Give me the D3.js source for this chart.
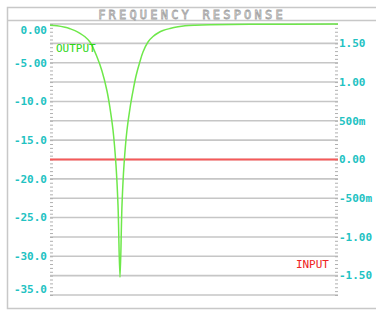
<!DOCTYPE html>
<html>
<head>
<meta charset="utf-8">
<script src="https://cdn.jsdelivr.net/npm/d3@7"></script>
<style>
  body { margin: 0; background: #fff; }
  text { font-family: "DejaVu Sans Mono", monospace; }
</style>
</head>
<body>
<svg id="chart"></svg>
<script>
// sweep frequencies (Hz) and output level (dB)
const freqs = [10, 12.5, 16.2, 19, 22.2, 26.1, 30.6, 35.9, 45, 52.7, 61.9, 68.1, 75, 82.5, 88, 93.8,
               100, 106.6, 117.3, 129.2, 142.2, 156.5, 175.1, 195.7, 229.6, 269.6, 316, 371, 464, 600, 750, 1033, 1668, 5995, 100000];
const outputDb = [-0.17, -0.23, -0.43, -0.62, -0.85, -1.2, -1.65, -2.32, -4.26, -6.07, -8.65, -10.85, -13.69, -18.21, -23.38, -32.72,
                  -23.38, -18.21, -13.69, -10.85, -8.65, -6.72, -5.04, -3.62, -2.32, -1.61, -1.16, -0.84, -0.58, -0.36, -0.23, -0.15, -0.09, -0.04, -0.01];
const inputFreqs = [10, 100000];
const inputVal = [0, 0];

const leftTicks = [0, -5, -10, -15, -20, -25, -30, -35];
const leftLabels = ["0.00", "-5.00", "-10.0", "-15.0", "-20.0", "-25.0", "-30.0", "-35.0"];
const rightTicks = [1.5, 1.0, 0.5, 0, -0.5, -1.0, -1.5];
const rightLabels = ["1.50", "1.00", "500m", "0.00", "-500m", "-1.00", "-1.50"];

const W = 376, H = 310;
const margin = {top: 24, right: 38, bottom: 15, left: 50};
const width = W - margin.left - margin.right;
const height = H - margin.top - margin.bottom;

const svg = d3.select('#chart').attr('width', W).attr('height', H);

// frame + title band
svg.append('path')
    .attr('d', `M${W + 2},7.5 H7.5 V308.5 H${W + 2} M7.5,20.5 H${W + 2}`)
    .attr('fill', 'none')
    .attr('stroke', '#c8c8c8')
    .attr('stroke-width', 1.5);

svg.append('text')
    .attr('x', 192).attr('y', 19)
    .attr('text-anchor', 'middle')
    .style('font-size', '12px')
    .style('letter-spacing', '3.2px')
    .attr('fill', 'none')
    .attr('stroke', '#a4a4a4')
    .attr('stroke-width', 0.8)
    .text('FREQUENCY RESPONSE');

const g = svg.append('g').attr('transform', `translate(${margin.left},${margin.top})`);

const x = d3.scaleLog().domain([10, 100000]).range([0, width]);
const yL = d3.scaleLinear().domain([0, -35]).range([0, height]);
const yR = d3.scaleLinear().domain([1.75, -1.75]).range([0, height]);

// horizontal grid every 2.5 dB
g.append('g')
  .selectAll('line')
  .data(d3.range(0, -35.01, -2.5))
  .join('line')
    .attr('x1', 0).attr('x2', width)
    .attr('y1', d => yL(d)).attr('y2', d => yL(d))
    .attr('stroke', '#c6c6c6')
    .attr('stroke-width', 1.6);

// minor ticks
const minorL = d3.range(0, -35.01, -0.5);
const minorR = d3.range(1.75, -1.7501, -0.05);
g.append('g')
    .call(d3.axisRight(yL).tickValues(minorL).tickSize(3).tickFormat(''))
    .call(a => a.select('.domain').remove())
    .selectAll('line').attr('stroke', '#b0b0b0');
g.append('g')
    .attr('transform', `translate(${width},0)`)
    .call(d3.axisLeft(yR).tickValues(minorR).tickSize(3).tickFormat(''))
    .call(a => a.select('.domain').remove())
    .selectAll('line').attr('stroke', '#b0b0b0');

// left labels (end ones nudged inside the plot like the original)
g.append('g')
  .selectAll('text')
  .data(leftTicks)
  .join('text')
    .attr('x', -3)
    .attr('y', d => Math.min(Math.max(yL(d), 6), height - 6))
    .attr('dy', '0.35em')
    .attr('text-anchor', 'end')
    .style('font-size', '11px')
    .style('font-weight', 'bold')
    .attr('fill', '#22c2c2')
    .text((d, i) => leftLabels[i]);

// right labels
g.append('g')
  .selectAll('text')
  .data(rightTicks)
  .join('text')
    .attr('x', width + 1)
    .attr('y', d => yR(d))
    .attr('dy', '0.35em')
    .style('font-size', '11px')
    .style('font-weight', 'bold')
    .attr('fill', '#22c2c2')
    .text((d, i) => rightLabels[i]);

// input trace (right axis)
const inputLine = d3.line().x(d => x(d[0])).y(d => yR(d[1]));
g.append('path')
    .datum(inputFreqs.map((f, i) => [f, inputVal[i]]))
    .attr('d', inputLine)
    .attr('fill', 'none')
    .attr('stroke', '#f55a5a')
    .attr('stroke-width', 2);

// output trace (left axis)
const outLine = d3.line().curve(d3.curveCatmullRom.alpha(0.5)).x(d => x(d[0])).y(d => yL(d[1]));
g.append('path')
    .datum(freqs.map((f, i) => [f, outputDb[i]]))
    .attr('d', outLine)
    .attr('fill', 'none')
    .attr('stroke', '#6ee84a')
    .attr('stroke-width', 1.5);

g.append('text')
    .attr('x', 6).attr('y', 28)
    .style('font-size', '11px')
    .attr('fill', '#2ed616')
    .text('OUTPUT');

g.append('text')
    .attr('x', width - 9).attr('y', 244)
    .attr('text-anchor', 'end')
    .style('font-size', '11px')
    .attr('fill', '#ee2222')
    .text('INPUT');
</script>
</body>
</html>
